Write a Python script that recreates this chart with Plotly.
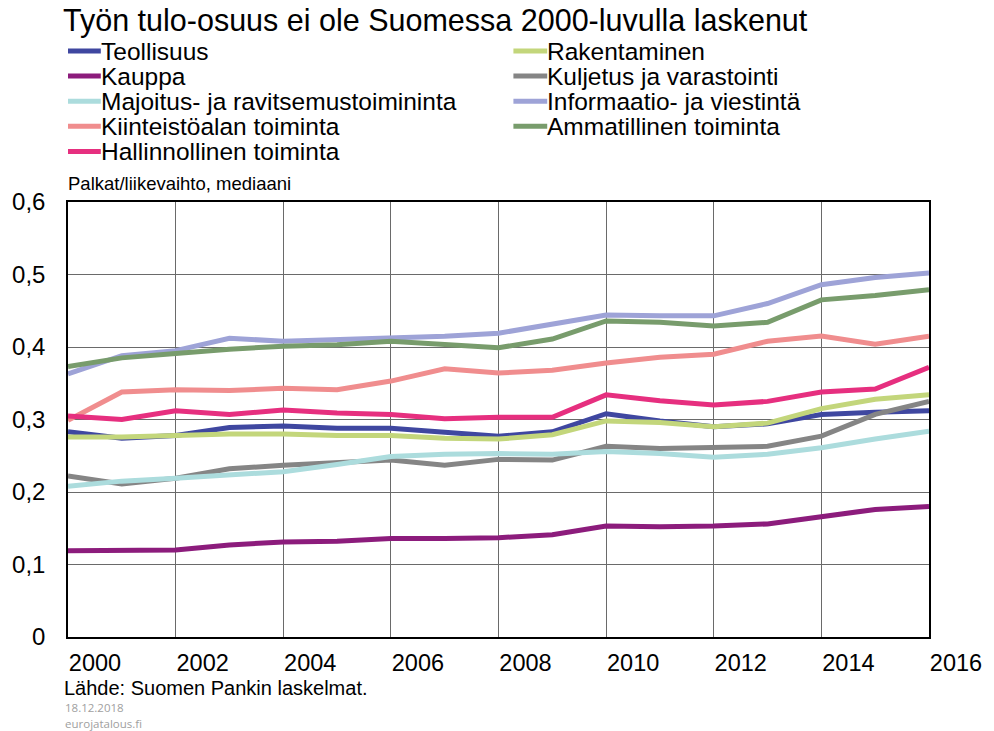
import plotly.graph_objects as go

# ---- data ----
years = list(range(2000, 2017))
teollisuus = [0.283, 0.274, 0.278, 0.289, 0.291, 0.288, 0.288, 0.283, 0.277, 0.283, 0.308, 0.298, 0.290, 0.294, 0.307, 0.310, 0.312]
rakentaminen = [0.276, 0.276, 0.278, 0.280, 0.280, 0.278, 0.278, 0.274, 0.273, 0.279, 0.298, 0.296, 0.290, 0.295, 0.315, 0.328, 0.334]
kauppa = [0.119, 0.120, 0.120, 0.127, 0.131, 0.132, 0.136, 0.136, 0.137, 0.141, 0.153, 0.152, 0.153, 0.156, 0.166, 0.176, 0.180]
kuljetus = [0.222, 0.211, 0.219, 0.232, 0.237, 0.241, 0.244, 0.237, 0.245, 0.244, 0.263, 0.260, 0.261, 0.263, 0.277, 0.307, 0.325]
majoitus = [0.208, 0.215, 0.219, 0.223, 0.228, 0.238, 0.249, 0.252, 0.253, 0.252, 0.256, 0.253, 0.248, 0.252, 0.261, 0.273, 0.284]
informaatio = [0.363, 0.388, 0.395, 0.412, 0.408, 0.410, 0.412, 0.415, 0.419, 0.432, 0.444, 0.443, 0.443, 0.460, 0.486, 0.496, 0.502]
kiinteisto = [0.299, 0.338, 0.341, 0.340, 0.343, 0.341, 0.353, 0.370, 0.364, 0.368, 0.378, 0.386, 0.390, 0.408, 0.415, 0.404, 0.415]
ammatillinen = [0.373, 0.385, 0.391, 0.397, 0.401, 0.403, 0.408, 0.404, 0.399, 0.411, 0.436, 0.434, 0.429, 0.434, 0.465, 0.471, 0.479]
hallinnollinen = [0.305, 0.300, 0.312, 0.307, 0.313, 0.309, 0.307, 0.301, 0.303, 0.303, 0.334, 0.326, 0.320, 0.325, 0.338, 0.342, 0.372]

series_names = [
    "Teollisuus", "Rakentaminen", "Kauppa", "Kuljetus ja varastointi",
    "Majoitus- ja ravitsemustoimininta", "Informaatio- ja viestintä",
    "Kiinteistöalan toiminta", "Ammatillinen toiminta", "Hallinnollinen toiminta",
]
series_values = [teollisuus, rakentaminen, kauppa, kuljetus, majoitus,
                 informaatio, kiinteisto, ammatillinen, hallinnollinen]
colors = ["#3f47a0", "#c3d67b", "#8c1c7c", "#858585", "#acdcdd",
          "#9ea3d7", "#f08d8e", "#789c6c", "#e62f7f"]

title_text = "Työn tulo-osuus ei ole Suomessa 2000-luvulla laskenut"
unit_text = "Palkat/liikevaihto, mediaani"
source_text = "Lähde: Suomen Pankin laskelmat."
date_text = "18.12.2018"
site_text = "eurojatalous.fi"

FONT = "Liberation Sans, Arial, sans-serif"
W, H = 994, 731
L, R, T, B = 67, 61, 202, 94
PW, PH = W - L - R, H - T - B


def px(xp):
    return (xp - L) / PW


def py(yp):
    return (H - B - yp) / PH


fig = go.Figure()
for name, vals, col in zip(series_names, series_values, colors):
    fig.add_trace(go.Scatter(x=years, y=vals, mode="lines", name=name,
                             line=dict(color=col, width=5), showlegend=False))

annotations = []
shapes = []
# title
annotations.append(dict(text=title_text, xref="paper", yref="paper", x=px(61), y=py(20.5),
                        xanchor="left", yanchor="middle", showarrow=False, borderpad=0,
                        font=dict(family=FONT, size=30.5, color="#000000")))
# legend (two columns, row-wise)
col_line_x = [(67, 100), (515, 549)]
col_text_x = [99, 548]
row_y0, row_dy = 51, 25.1
for k, (name, col) in enumerate(zip(series_names, colors)):
    r, c = divmod(k, 2)
    yy = row_y0 + r * row_dy
    shapes.append(dict(type="line", xref="paper", yref="paper",
                       x0=px(col_line_x[c][0]), x1=px(col_line_x[c][1]), y0=py(yy), y1=py(yy),
                       line=dict(color=col, width=5)))
    annotations.append(dict(text=name, xref="paper", yref="paper", x=px(col_text_x[c]), y=py(yy),
                            xanchor="left", yanchor="middle", showarrow=False, borderpad=0,
                            font=dict(family=FONT, size=24.5, color="#000000")))
# unit label
annotations.append(dict(text=unit_text, xref="paper", yref="paper", x=px(65), y=py(184),
                        xanchor="left", yanchor="middle", showarrow=False,
                        font=dict(family="Liberation Sans Narrow, Arial Narrow, " + FONT, size=18.5, color="#000000")))
# footer
annotations.append(dict(text=source_text, xref="paper", yref="paper", x=px(62), y=py(688),
                        xanchor="left", yanchor="middle", showarrow=False, borderpad=0,
                        font=dict(family=FONT, size=20, color="#000000")))
annotations.append(dict(text=date_text, xref="paper", yref="paper", x=px(63), y=py(707.9),
                        xanchor="left", yanchor="middle", showarrow=False, borderpad=0,
                        font=dict(family="Open Sans, sans-serif", size=11.5, color="#a0a0a0")))
annotations.append(dict(text=site_text, xref="paper", yref="paper", x=px(63), y=py(723.3),
                        xanchor="left", yanchor="middle", showarrow=False, borderpad=0,
                        font=dict(family="Open Sans, sans-serif", size=11.5, color="#a0a0a0")))

fig.update_layout(
    width=W, height=H,
    margin=dict(l=L, r=R, t=T, b=B, pad=0),
    paper_bgcolor="white", plot_bgcolor="white",
    separators=", ",
    font=dict(family=FONT, size=24, color="#000000"),
    annotations=annotations, shapes=shapes,
    showlegend=False,
)
fig.update_xaxes(range=[2000, 2016], dtick=2, tick0=2000, showgrid=True,
                 gridcolor="#6a6a6a", gridwidth=1, showline=True, mirror=True,
                 linecolor="#000000", linewidth=1.5, ticks="", zeroline=False,
                 ticklabelshift=27, ticklabelstandoff=4,
                 tickfont=dict(family=FONT, size=23.5, color="#000000"))
fig.update_yaxes(range=[0, 0.6], dtick=0.1, tick0=0, showgrid=True,
                 gridcolor="#6a6a6a", gridwidth=1, showline=True, mirror=True,
                 linecolor="#000000", linewidth=1.5, ticks="", zeroline=False,
                 ticklabelstandoff=16,
                 tickfont=dict(family=FONT, size=24, color="#000000"))

fig.write_html("out.html", config={"displayModeBar": False},
               post_script="document.body.style.margin='0';document.body.style.overflow='hidden';")
